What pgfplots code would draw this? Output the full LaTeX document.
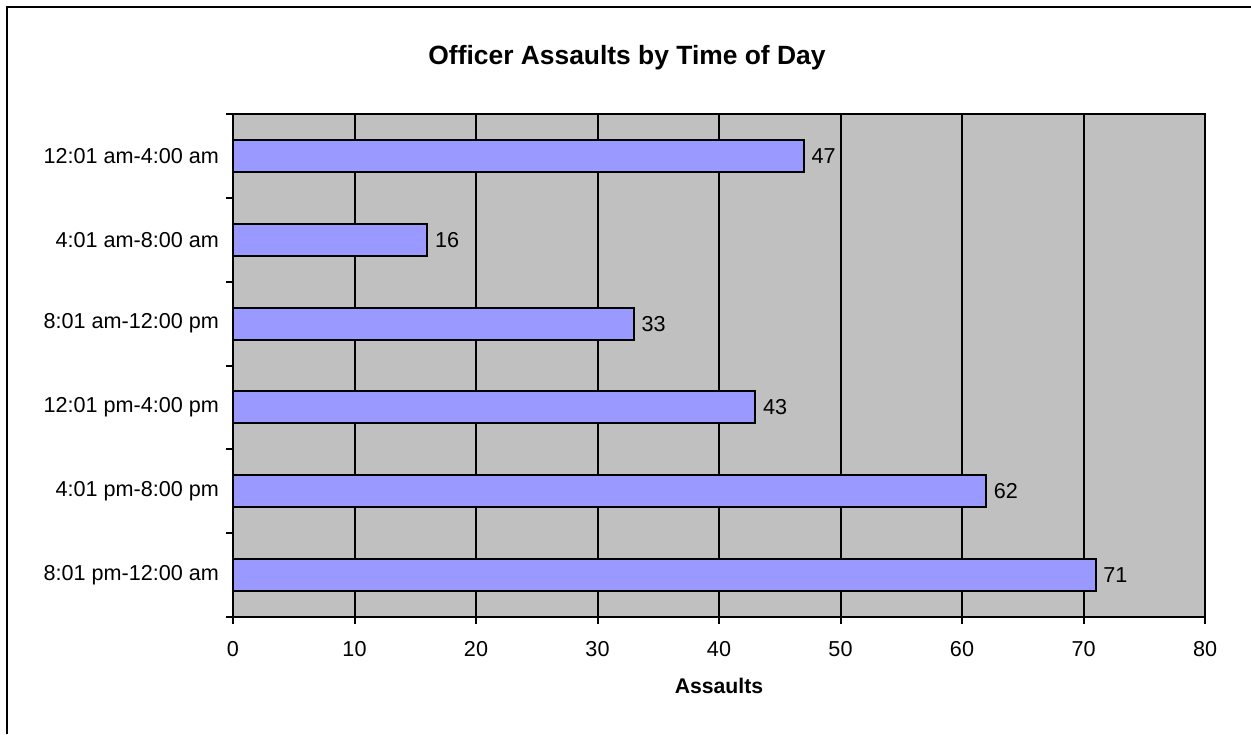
\documentclass[border=0pt]{standalone}
\usepackage{fontspec}
\setmainfont{Liberation Sans}
\usepackage{pgfplots}
\pgfplotsset{compat=1.18}
\definecolor{plotgrey}{HTML}{C0C0C0}
\definecolor{barblue}{HTML}{9999FF}
\pgfplotsset{/pgf/number format/assume math mode=true}
\begin{document}
\begin{tikzpicture}[x=0.5pt,y=0.5pt]
\path[use as bounding box] (0,0) rectangle (1251,734);
\draw[line width=1pt] (7,0) -- (7,727) -- (1251,727);
\begin{axis}[
  at={(116.5pt,58.5pt)}, anchor=south west,
  scale only axis, width=486pt, height=251.5pt,
  xbar, bar width=16pt,
  xmin=0, xmax=80, ymin=-0.5, ymax=5.5,
  y dir=reverse,
  xtick={0,10,...,80},
  ytick={0,...,5},
  yticklabels={12:01 am-4:00 am, 4:01 am-8:00 am, 8:01 am-12:00 pm, 12:01 pm-4:00 pm, 4:01 pm-8:00 pm, 8:01 pm-12:00 am},
  minor ytick={-0.5,0.5,...,5.5},
  every major y tick/.style={draw=none},
  tick align=outside,
  major tick length=3.5pt, minor tick length=3.5pt,
  every tick/.style={black, line width=1pt},
  xtick pos=bottom, ytick pos=left,
  xmajorgrids,
  major x grid style={black, line width=1pt},
  axis background/.style={fill=plotgrey},
  axis line style={line width=1pt},
  tick label style={font=\fontsize{10.8}{13}\selectfont},
  xticklabel style={yshift=-5pt},
  title={Officer Assaults by Time of Day},
  title style={font=\bfseries\fontsize{13.2}{15}\selectfont, at={(rel axis cs:0.5,1)}, anchor=base, yshift=19pt, xshift=-46pt},
  xlabel={Assaults},
  xlabel style={font=\bfseries\fontsize{10.6}{12}\selectfont, at={(rel axis cs:0.5,0)}, anchor=base, yshift=-38pt},
]
\addplot[fill=barblue, draw=black, line width=1pt,
  nodes near coords,
  nodes near coords style={font=\fontsize{10.8}{13}\selectfont, black}]
  coordinates {(47,0) (16,1) (33,2) (43,3) (62,4) (71,5)};
\end{axis}
\end{tikzpicture}
\end{document}
